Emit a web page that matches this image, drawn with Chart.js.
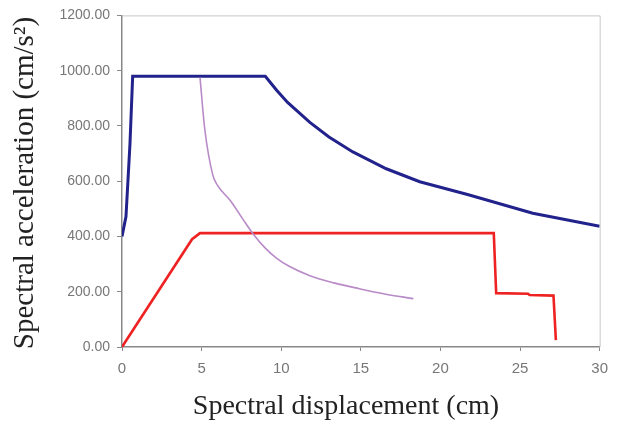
<!DOCTYPE html>
<html>
<head>
<meta charset="utf-8">
<script src="https://cdn.jsdelivr.net/npm/chart.js@4"></script>
<style>
  html, body { margin: 0; padding: 0; background: #fff; }
  #wrap { width: 617px; height: 427px; }
</style>
</head>
<body>
<div id="wrap"><canvas id="chart" width="617" height="427"></canvas></div>
<script>
// values (x = cm, y = cm/s2)
var blueX = [0, 0.25, 0.5, 0.67, 9.0, 9.7, 10.4, 11.8, 13.0, 14.5, 16.6, 18.7, 21.7, 25.8, 30];
var blueY = [400, 472, 734, 980, 980, 930, 885, 813, 760, 706, 645, 598, 552, 484, 437];

var redX = [0, 4.4, 4.9, 23.35, 23.5, 25.5, 25.6, 27.1, 27.25];
var redY = [0, 390, 412, 412, 195, 193, 188, 186, 25];

var purpleX = [4.9, 5.2, 5.7, 6.0, 6.8, 7.6, 8.2, 9.0, 9.7, 10.5, 11.8, 13.3, 14.9, 16.5, 18.3];
var purpleY = [975, 788, 623, 585, 530, 462, 412, 358, 322, 292, 258, 232, 211, 192, 175];

var xTicks = [0, 5, 10, 15, 20, 25, 30];
var yTicks = [0, 200, 400, 600, 800, 1000, 1200];

var xTitle = 'Spectral displacement (cm)';
var yTitle = 'Spectral acceleration (cm/s\u00B2)';

function pts(xs, ys) {
    var out = [];
    for (let i = 0; i < xs.length; i++) out.push({x: xs[i], y: ys[i]});
    return out;
}

// light frame on top/right, and the two axis titles
var frame = {
    id: 'frame',
    beforeDatasetsDraw: function(chart) {
        var a = chart.chartArea, c = chart.ctx;
        c.save();
        c.strokeStyle = '#c8c8c8';
        c.lineWidth = 1;
        c.beginPath();
        c.moveTo(a.left, a.top + 0.5);
        c.lineTo(a.right + 0.5, a.top + 0.5);
        c.lineTo(a.right + 0.5, a.bottom);
        c.stroke();
        c.restore();
    },
    afterDraw: function(chart) {
        var c = chart.ctx;
        c.save();
        c.fillStyle = '#222';
        c.font = '28px "Liberation Serif", "DejaVu Serif", serif';
        c.textAlign = 'center';
        c.textBaseline = 'alphabetic';
        c.fillText(xTitle, 346, 414);
        c.translate(33, 183);
        c.rotate(-Math.PI / 2);
        c.font = '29px "Liberation Serif", "DejaVu Serif", serif';
        c.fillText(yTitle, 0, 0);
        c.restore();
    }
};

var ctx = document.getElementById('chart');
var chart = new Chart(ctx, {
    type: 'line',
    data: {
        datasets: [
            {
                label: 'purple',
                data: pts(purpleX, purpleY),
                borderColor: '#b88ac8',
                borderWidth: 1.6,
                cubicInterpolationMode: 'monotone',
                pointRadius: 0
            },
            {
                label: 'red',
                data: pts(redX, redY),
                borderColor: '#ee2222',
                borderWidth: 2.6,
                tension: 0,
                pointRadius: 0
            },
            {
                label: 'blue',
                data: pts(blueX, blueY),
                borderColor: '#22228c',
                borderWidth: 3,
                tension: 0,
                pointRadius: 0
            }
        ]
    },
    options: {
        responsive: false,
        animation: false,
        layout: { padding: { top: 12, right: 17, left: 0, bottom: 0 } },
        plugins: { legend: { display: false }, tooltip: { enabled: false } },
        scales: {
            x: {
                type: 'linear',
                min: 0,
                max: 30,
                afterFit: function(s) { s.height = 80; },
                afterBuildTicks: function(s) { s.ticks = xTicks.map(v => ({value: v})); },
                grid: { display: true, drawOnChartArea: false, drawTicks: true, tickLength: 4, color: '#888' },
                border: { display: true, color: '#888', width: 1.5 },
                ticks: { color: '#777', padding: 9, font: { family: 'Liberation Sans, Arial, sans-serif', size: 15 } }
            },
            y: {
                type: 'linear',
                min: 0,
                max: 1200,
                afterFit: function(s) { s.width = 122; },
                afterBuildTicks: function(s) { s.ticks = yTicks.map(v => ({value: v})); },
                grid: { display: true, drawOnChartArea: false, drawTicks: true, tickLength: 5, color: '#888' },
                border: { display: true, color: '#888', width: 1.5 },
                ticks: {
                    color: '#777',
                    padding: 7,
                    font: { family: 'Liberation Sans, Arial, sans-serif', size: 14 },
                    callback: function(v) { return Number(v).toFixed(2); }
                }
            }
        }
    },
    plugins: [frame]
});
</script>
</body>
</html>
